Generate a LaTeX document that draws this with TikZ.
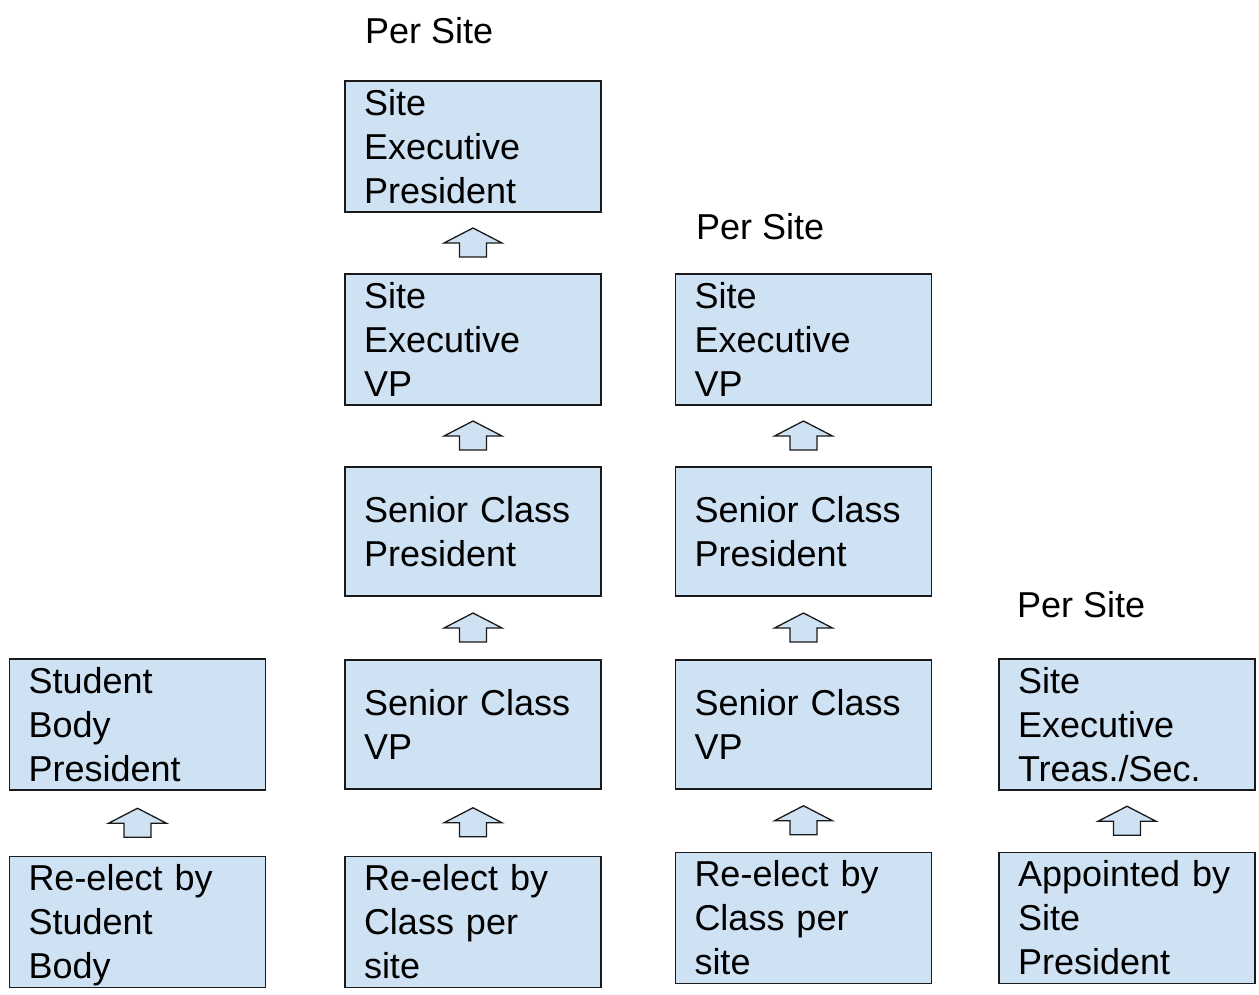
\documentclass[tikz,border=0pt]{standalone}
\usepackage{fontspec}
\setmainfont{Liberation Sans}
\usetikzlibrary{calc}
\definecolor{boxfill}{HTML}{CFE2F3}
\definecolor{edgecol}{HTML}{1A1A1A}
\newcommand\topstrut{\rule{0pt}{34pt}}
\newcommand\botstrut{\rule[-9pt]{0pt}{9pt}}
\tikzset{
  box/.style={draw=edgecol, fill=boxfill, line width=1.6pt, rectangle,
    minimum width=256pt, minimum height=129pt, inner xsep=19pt, inner ysep=0pt,
    text width=218pt, align=left, font=\fontsize{36}{44}\selectfont},
  lbl/.style={anchor=base west, inner sep=0pt, font=\fontsize{36}{44}\selectfont},
  uparrow/.pic={\draw[line width=1.3pt, draw=edgecol, fill=boxfill, line join=miter]
    (-13.5,14) -- (-13.5,0) -- (-29,0) -- (0,-15) -- (29,0) -- (13.5,0) -- (13.5,14) -- cycle;}
}
\begin{document}
\begin{tikzpicture}[x=1pt,y=-1pt]
\useasboundingbox (0,0) rectangle (1259,994);
% labels
\node[lbl] (ps1) at (365,43) {Per Site};
\node[lbl] (ps2) at (696,239) {Per Site};
\node[lbl] (ps3) at (1017,617) {Per Site};
% column A
\node[box] (a1) at (473,146.5) {\topstrut Site\\Executive\\President\botstrut};
\node[box] (a2) at (473,339.5) {\topstrut Site\\Executive\\VP\botstrut};
\node[box] (a3) at (473,531.5) {\topstrut Senior Class\\President\botstrut};
\node[box] (a4) at (473,724.5) {\topstrut Senior Class\\VP\botstrut};
\node[box] (a5) at (473,922) {\topstrut Re-elect by\\Class per\\site\botstrut};
% column B
\node[box] (b2) at (803.5,339.5) {\topstrut Site\\Executive\\VP\botstrut};
\node[box] (b3) at (803.5,531.5) {\topstrut Senior Class\\President\botstrut};
\node[box] (b4) at (803.5,724.5) {\topstrut Senior Class\\VP\botstrut};
\node[box] (b5) at (803.5,918) {\topstrut Re-elect by\\Class per\\site\botstrut};
% column L
\node[box] (l4) at (137.5,724.5) {\topstrut Student\\Body\\President\botstrut};
\node[box] (l5) at (137.5,922) {\topstrut Re-elect by\\Student\\Body\botstrut};
% column R
\node[box] (r4) at (1127,724.5) {\topstrut Site\\Executive\\Treas./Sec.\botstrut};
\node[box] (r5) at (1127,918) {\topstrut Appointed by\\Site\\President\botstrut};
% arrows
\path ($(a2.north)!0.5!(a1.south)$) pic {uparrow};
\path ($(a3.north)!0.5!(a2.south)$) pic {uparrow};
\path ($(a4.north)!0.5!(a3.south)$) pic {uparrow};
\path ($(a5.north)!0.5!(a4.south)$) pic {uparrow};
\path ($(b3.north)!0.5!(b2.south)$) pic {uparrow};
\path ($(b4.north)!0.5!(b3.south)$) pic {uparrow};
\path ($(b5.north)!0.5!(b4.south)$) pic {uparrow};
\path ($(l5.north)!0.5!(l4.south)$) pic {uparrow};
\path ($(r5.north)!0.5!(r4.south)$) pic {uparrow};
\end{tikzpicture}
\end{document}
